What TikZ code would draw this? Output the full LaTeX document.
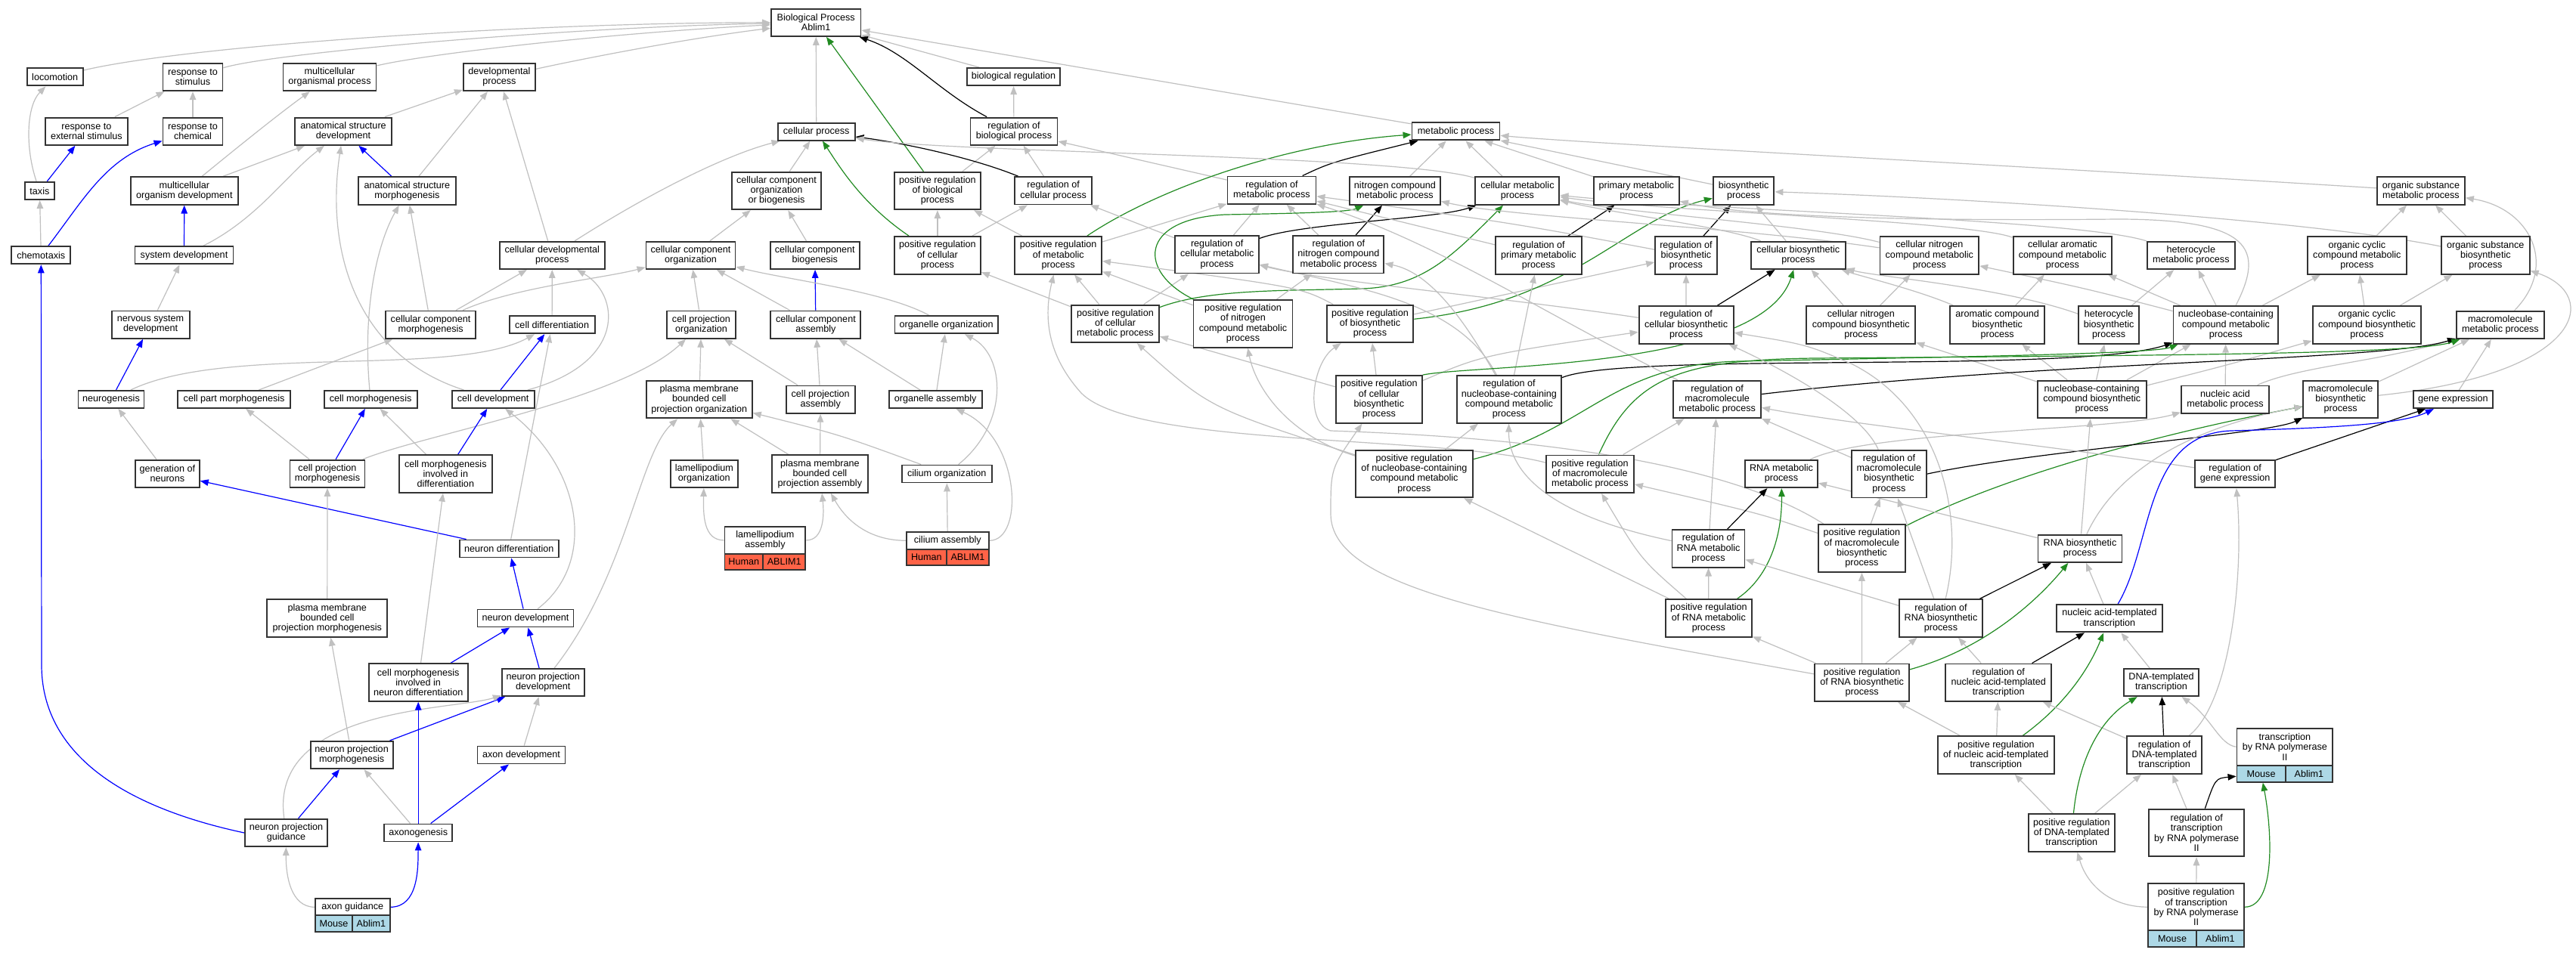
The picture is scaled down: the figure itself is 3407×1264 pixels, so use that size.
\documentclass[tikz,border=0pt]{standalone}
\usepackage{fontspec}
\setmainfont{Liberation Sans}
\usetikzlibrary{arrows.meta}
\definecolor{egrey}{RGB}{192,192,192}
\definecolor{egreen}{RGB}{34,139,34}
\definecolor{tabblue}{RGB}{173,216,230}
\definecolor{tabred}{RGB}{255,99,71}
\pgfdeclarelayer{bg}
\pgfsetlayers{bg,main}
\newcommand\gofont{\fontsize{12.6}{13.2}\selectfont}
\newcommand\gonode[6]{\node[nb,minimum width=#4pt,minimum height=#5pt] (#1) at (#2,#3) {#6};}
\newcommand\gocell[7]{\node[nb,fill=#6,minimum width=#4pt,minimum height=#5pt] (#1) at (#2,#3) {#7};}
\begin{document}
\begin{tikzpicture}[x=1pt,y=-1pt,
  nb/.style={draw=black!80,line width=1.9pt,fill=white,rectangle,inner sep=0pt,align=center,font=\gofont},
  tipA/.style={-{Triangle[length=11pt,width=8.5pt]}},
  eg/.style={draw=egrey,line width=1.2pt,tipA},
  eb/.style={draw=blue,line width=1.2pt,tipA},
  ek/.style={draw=black,line width=1.2pt,tipA},
  eG/.style={draw=egreen,line width=1.2pt,tipA}]
\useasboundingbox (0,0) rectangle (3407,1264);
% ---------------- nodes: left part
\gonode{loco}{72.7}{101.9}{74}{23}{locomotion}
\gonode{respstim}{255}{102}{79}{36.3}{response to\\stimulus}
\gonode{mcorg}{436}{102}{123}{36.3}{multicellular\\organismal process}
\gonode{devproc}{660.4}{102}{95}{36.3}{developmental\\process}
\gonode{respext}{114.4}{173.7}{109}{36.3}{response to\\external stimulus}
\gonode{respchem}{255}{173.7}{79}{36.3}{response to\\chemical}
\gonode{asdev}{454}{173.7}{128}{36.3}{anatomical structure\\development}
\gonode{taxis}{52.4}{252.5}{39}{23}{taxis}
\gonode{mcodev}{243.8}{252.5}{142}{36.3}{multicellular\\organism development}
\gonode{asmorph}{538.4}{252.5}{129}{36.3}{anatomical structure\\morphogenesis}
\gonode{chemotaxis}{54.3}{337.8}{78}{23}{chemotaxis}
\gonode{sysdev}{243.5}{337.8}{130}{23}{system development}
\gonode{celldevproc}{730.3}{337.8}{139}{36.3}{cellular developmental\\process}
\gonode{nsdev}{199.1}{429.6}{103}{36.3}{nervous system\\development}
\gonode{ccmorph}{569.6}{429.6}{119}{36.3}{cellular component\\morphogenesis}
\gonode{celldiff}{730.1}{429.8}{113}{23}{cell differentiation}
\gonode{neurogen}{147}{528.4}{87}{23}{neurogenesis}
\gonode{cpartmorph}{309.6}{528.4}{149}{23}{cell part morphogenesis}
\gonode{cellmorph}{490.1}{528.4}{123}{23}{cell morphogenesis}
\gonode{celldev}{652.2}{528.4}{109}{23}{cell development}
\gonode{genneur}{221.3}{626.8}{85}{36.3}{generation of\\neurons}
\gonode{cprojmorph}{433}{626.8}{99}{36.3}{cell projection\\morphogenesis}
\gonode{cmid}{589.3}{627}{123}{49.5}{cell morphogenesis\\involved in\\differentiation}
\gonode{neurdiff}{673.3}{726}{131}{23}{neuron differentiation}
\gonode{pmbcpm}{432.8}{818}{159}{49.5}{plasma membrane\\bounded cell\\projection morphogenesis}
\gonode{neurdev}{695}{818}{127}{23}{neuron development}
\gonode{cmind}{553.2}{903}{131}{49.5}{cell morphogenesis\\involved in\\neuron differentiation}
\gonode{npdev}{718.3}{903}{109}{36.3}{neuron projection\\development}
\gonode{npmorph}{465.1}{999}{109}{36.3}{neuron projection\\morphogenesis}
\gonode{axondev}{689.5}{999}{116}{23}{axon development}
\gonode{npguid}{378.5}{1102}{109}{36.3}{neuron projection\\guidance}
\gonode{axonogen}{553.2}{1102}{90}{23}{axonogenesis}
\gonode{axonguid}{466.25}{1200.3}{98.7}{22.2}{axon guidance}
\gocell{axonguidM}{441.55}{1222.3}{49.3}{21.8}{tabblue}{Mouse}
\gocell{axonguidA}{490.9}{1222.3}{49.4}{21.8}{tabblue}{Ablim1}
% ---------------- nodes: middle part
\gonode{BP}{1079.2}{29.8}{118.5}{36.3}{Biological Process\\Ablim1}
\gonode{bioreg}{1340.5}{101.6}{123}{23}{biological regulation}
\gonode{regbp}{1341}{173.7}{115}{36.3}{regulation of\\biological process}
\gonode{cellproc}{1079.7}{174.1}{102}{23}{cellular process}
\gonode{ccob}{1027}{252.5}{118.5}{49.5}{cellular component\\organization\\or biogenesis}
\gonode{prbp}{1239.9}{252.5}{114}{49.5}{positive regulation\\of biological\\process}
\gonode{regcp}{1393.1}{252.3}{101.5}{36.3}{regulation of\\cellular process}
\gonode{regmp}{1682}{251.6}{117}{36.3}{regulation of\\metabolic process}
\gonode{cco}{913.5}{337.8}{118}{36.3}{cellular component\\organization}
\gonode{ccb}{1077.8}{337.8}{118}{36.3}{cellular component\\biogenesis}
\gonode{prcp}{1239.9}{337.8}{114}{49.5}{positive regulation\\of cellular\\process}
\gonode{prmp}{1399.7}{337.8}{114.6}{49.5}{positive regulation\\of metabolic\\process}
\gonode{regcmp}{1609.7}{336.7}{110.6}{49.5}{regulation of\\cellular metabolic\\process}
\gonode{regncmp}{1770.4}{336.7}{120}{49.5}{regulation of\\nitrogen compound\\metabolic process}
\gonode{cporg}{927.5}{429.6}{90.5}{36.3}{cell projection\\organization}
\gonode{cca}{1078.9}{429.6}{119}{36.3}{cellular component\\assembly}
\gonode{orgorg}{1251.7}{429.8}{136.5}{23}{organelle organization}
\gonode{pmbcpo}{924.8}{528.6}{140}{49.5}{plasma membrane\\bounded cell\\projection organization}
\gonode{cpa}{1085.2}{528.6}{91}{36.3}{cell projection\\assembly}
\gonode{orgasm}{1237.1}{528.6}{123}{23}{organelle assembly}
\gonode{lamorg}{931.3}{626.8}{89.4}{36.3}{lamellipodium\\organization}
\gonode{pmbcpa}{1084.4}{627}{126.7}{49.5}{plasma membrane\\bounded cell\\projection assembly}
\gonode{cilorg}{1252.2}{627}{119}{23}{cilium organization}
\gonode{lamasm}{1011.95}{714.9}{106.9}{36.2}{lamellipodium\\assembly}
\gocell{lamasmH}{983.7}{743.65}{50.4}{21.3}{tabred}{Human}
\gocell{lamasmA}{1037.15}{743.65}{56.5}{21.3}{tabred}{ABLIM1}
\gonode{cilasm}{1253.3}{715.3}{109.2}{23}{cilium assembly}
\gocell{cilasmH}{1225.3}{737.45}{53.2}{21.3}{tabred}{Human}
\gocell{cilasmA}{1279.9}{737.45}{56}{21.3}{tabred}{ABLIM1}
% ---------------- nodes: metabolic part
\gonode{ncmp}{1844.9}{252.5}{120}{36.3}{nitrogen compound\\metabolic process}
\gonode{mp}{1925.5}{173.9}{116}{23}{metabolic process}
\gonode{cmp}{2006.9}{252.5}{111}{36.3}{cellular metabolic\\process}
\gonode{pmp}{2164.3}{252.5}{113}{36.3}{primary metabolic\\process}
\gonode{bsp}{2306.1}{252.5}{80.6}{36.3}{biosynthetic\\process}
\gonode{regpmp}{2034.9}{338}{114}{49.5}{regulation of\\primary metabolic\\process}
\gonode{regbsp}{2229.9}{338}{81.7}{49.5}{regulation of\\biosynthetic\\process}
\gonode{cbsp}{2378.3}{337.8}{125}{36.3}{cellular biosynthetic\\process}
\gonode{cncmp}{2551.8}{337.8}{130.7}{49.5}{cellular nitrogen\\compound metabolic\\process}
\gonode{cacmp}{2727.9}{337.8}{130.7}{49.5}{cellular aromatic\\compound metabolic\\process}
\gonode{hmp}{2897.8}{338}{116}{36.3}{heterocycle\\metabolic process}
\gonode{occmp}{3117.3}{338}{130.5}{49.5}{organic cyclic\\compound metabolic\\process}
\gonode{osbsp}{3287.3}{338}{116.7}{49.5}{organic substance\\biosynthetic\\process}
\gonode{osmp}{3201.9}{252.5}{116}{36.3}{organic substance\\metabolic process}
\gonode{prcmp}{1475}{428.4}{116}{49.5}{positive regulation\\of cellular\\metabolic process}
\gonode{prncmp}{1644}{428.3}{131}{62.7}{positive regulation\\of nitrogen\\compound metabolic\\process}
\gonode{prbsp}{1812}{428.4}{114.8}{49.5}{positive regulation\\of biosynthetic\\process}
\gonode{regcbsp}{2230.1}{429.9}{125}{49.5}{regulation of\\cellular biosynthetic\\process}
\gonode{cncbsp}{2461.3}{429.9}{144}{49.5}{cellular nitrogen\\compound biosynthetic\\process}
\gonode{acbsp}{2641.6}{429.8}{124.6}{49.5}{aromatic compound\\biosynthetic\\process}
\gonode{hbsp}{2789.1}{429.9}{80}{49.5}{heterocycle\\biosynthetic\\process}
\gonode{nccmp}{2943.9}{429.9}{138.8}{49.5}{nucleobase-containing\\compound metabolic\\process}
\gonode{occbsp}{3130.5}{429.9}{143.8}{49.5}{organic cyclic\\compound biosynthetic\\process}
\gonode{mmp}{3306.9}{429.9}{116}{36.3}{macromolecule\\metabolic process}
\gonode{prcbsp}{1823.8}{528.4}{114}{62.7}{positive regulation\\of cellular\\biosynthetic\\process}
\gonode{regnccmp}{1995.9}{528.4}{138}{62.7}{regulation of\\nucleobase-containing\\compound metabolic\\process}
\gonode{regmmp}{2271.1}{528.4}{115.7}{49.5}{regulation of\\macromolecule\\metabolic process}
\gonode{nccbsp}{2766.7}{528.4}{143.8}{49.5}{nucleobase-containing\\compound biosynthetic\\process}
\gonode{namp}{2943}{528.6}{116}{36.3}{nucleic acid\\metabolic process}
\gonode{mbsp}{3095.6}{528.4}{98.4}{49.5}{macromolecule\\biosynthetic\\process}
\gonode{geneexp}{3244.4}{528.6}{105}{23}{gene expression}
\gonode{prnccmp}{1870.4}{627}{154.7}{62.7}{positive regulation\\of nucleobase-containing\\compound metabolic\\process}
\gonode{prmmp}{2102.9}{627.2}{116.2}{49.5}{positive regulation\\of macromolecule\\metabolic process}
\gonode{rnamp}{2356}{627}{96}{36.3}{RNA metabolic\\process}
\gonode{regmbsp}{2498.4}{627.1}{99}{62.7}{regulation of\\macromolecule\\biosynthetic\\process}
\gonode{reggeneexp}{2956.1}{627}{105.6}{36.3}{regulation of\\gene expression}
\gonode{regrnamp}{2259.5}{725.8}{96}{49.5}{regulation of\\RNA metabolic\\process}
\gonode{prmbsp}{2462.4}{725.5}{114.6}{62.7}{positive regulation\\of macromolecule\\biosynthetic\\process}
\gonode{rnabsp}{2751}{725.8}{111}{36.3}{RNA biosynthetic\\process}
\gonode{prrnamp}{2259.8}{817.9}{114}{49.5}{positive regulation\\of RNA metabolic\\process}
\gonode{regrnabsp}{2567}{818}{110.3}{49.5}{regulation of\\RNA biosynthetic\\process}
\gonode{natt}{2789.9}{818.2}{140}{36.3}{nucleic acid-templated\\transcription}
\gonode{prrnabsp}{2462.6}{903.2}{125}{49.5}{positive regulation\\of RNA biosynthetic\\process}
\gonode{regnatt}{2643.2}{903.2}{140}{49.5}{regulation of\\nucleic acid-templated\\transcription}
\gonode{dtt}{2858.5}{903}{98.4}{36.3}{DNA-templated\\transcription}
\gonode{prnatt}{2639.8}{999.1}{154.2}{49.5}{positive regulation\\of nucleic acid-templated\\transcription}
\gonode{regdtt}{2862.6}{999.1}{99}{49.5}{regulation of\\DNA-templated\\transcription}
\gonode{trnp2}{3021.85}{988.3}{126.7}{49.4}{transcription\\by RNA polymerase\\II}
\gocell{trnp2M}{2990.6}{1023.85}{64.2}{21.7}{tabblue}{Mouse}
\gocell{trnp2A}{3053.95}{1023.85}{62.5}{21.7}{tabblue}{Ablim1}
\gonode{prdtt}{2739.9}{1102}{114.5}{49.5}{positive regulation\\of DNA-templated\\transcription}
\gonode{regtrnp2}{2905.2}{1102}{125.6}{62.7}{regulation of\\transcription\\by RNA polymerase\\II}
\gonode{prtrnp2}{2904.65}{1200.2}{126.7}{62.4}{positive regulation\\of transcription\\by RNA polymerase\\II}
\gocell{prtrnp2M}{2873.1}{1242.2}{63.6}{21.6}{tabblue}{Mouse}
\gocell{prtrnp2A}{2936.45}{1242.2}{63.1}{21.6}{tabblue}{Ablim1}
% ---------------- edges
\begin{pgfonlayer}{bg}
\fill[white] (0,0) rectangle (3407,1264);
% left part
\draw[eg] (loco) .. controls (250,60) and (700,30) .. (BP);
\draw[eg] (respstim) .. controls (360,70) and (750,36) .. (BP);
\draw[eg] (mcorg) .. controls (560,72) and (800,44) .. (BP);
\draw[eg] (devproc) .. controls (760,80) and (900,52) .. (BP);
\draw[eg] (respext) -- (respstim);
\draw[eg] (respchem) -- (respstim);
\draw[eg] (asdev) -- (devproc);
\draw[eg] (taxis) .. controls (33,195) and (35,140) .. (loco);
\draw[eb] (taxis) -- (respext);
\draw[eg] (chemotaxis) -- (taxis);
\draw[eb] (chemotaxis) .. controls (110,265) and (140,210) .. (respchem);
\draw[eg] (mcodev) .. controls (320,190) and (370,150) .. (mcorg);
\draw[eg] (mcodev) -- (asdev);
\draw[eb] (asmorph) -- (asdev);
\draw[eg] (asmorph) -- (devproc);
\draw[eb] (sysdev) -- (mcodev);
\draw[eg] (sysdev) .. controls (340,290) and (380,230) .. (asdev);
\draw[eg] (celldevproc) -- (devproc);
\draw[eg] (celldevproc) .. controls (860,255) and (960,205) .. (cellproc);
\draw[eg] (nsdev) -- (sysdev);
\draw[eg] (ccmorph) -- (asmorph);
\draw[eg] (ccmorph) -- (celldevproc);
\draw[eg] (ccmorph) .. controls (680,380) and (800,368) .. (cco);
\draw[eg] (celldiff) -- (celldevproc);
\draw[eb] (neurogen) -- (nsdev);
\draw[eg] (neurogen) .. controls (300,455) and (600,500) .. (celldiff);
\draw[eg] (cpartmorph) -- (ccmorph);
\draw[eg] (cellmorph) .. controls (480,420) and (495,330) .. (asmorph);
\draw[eb] (celldev) -- (celldiff);
\draw[eg] (celldev) .. controls (470,470) and (430,330) .. (asdev);
\draw[eg] (celldev) .. controls (830,480) and (820,390) .. (celldevproc);
\draw[eg] (genneur) -- (neurogen);
\draw[eb] (cprojmorph) -- (cellmorph);
\draw[eg] (cprojmorph) -- (cpartmorph);
\draw[eg] (cprojmorph) .. controls (560,575) and (820,530) .. (cporg);
\draw[eg] (cmid) -- (cellmorph);
\draw[eb] (cmid) -- (celldev);
\draw[eb] (neurdiff) -- (genneur);
\draw[eg] (neurdiff) -- (celldiff);
\draw[eg] (pmbcpm) -- (cprojmorph);
\draw[eb] (neurdev) -- (neurdiff);
\draw[eg] (neurdev) .. controls (790,745) and (770,620) .. (celldev);
\draw[eb] (cmind) -- (neurdev);
\draw[eg] (cmind) -- (cmid);
\draw[eb] (npdev) -- (neurdev);
\draw[eg] (npdev) .. controls (830,760) and (845,600) .. (pmbcpo);
\draw[eb] (npmorph) -- (npdev);
\draw[eg] (npmorph) -- (pmbcpm);
\draw[eg] (axondev) -- (npdev);
\draw[eb] (npguid.west) .. controls (150,1065) and (55,990) .. (55,880) -- (chemotaxis);
\draw[eb] (npguid) -- (npmorph);
\draw[eg] (npguid) .. controls (355,935) and (600,940) .. (npdev);
\draw[eg] (axonogen) -- (npmorph);
\draw[eb] (axonogen) -- (cmind);
\draw[eb] (axonogen) -- (axondev);
\draw[eg] (axonguid.west) .. controls (385,1200) and (378,1160) .. (npguid);
\draw[eb] (axonguid.east) .. controls (553,1200) and (553,1150) .. (axonogen);
% middle part
\draw[eg] (bioreg) -- (BP);
\draw[eg] (regbp) -- (bioreg);
\draw[ek] (regbp) .. controls (1240,120) and (1200,70) .. (BP);
\draw[eg] (cellproc) -- (BP);
\draw[eG] (prbp) -- (BP);
\draw[eg] (prbp) -- (regbp);
\draw[eg] (ccob) -- (cellproc);
\draw[ek] (regcp) .. controls (1290,210) and (1200,190) .. (cellproc);
\draw[eg] (regcp) -- (regbp);
\draw[eg] (regmp) -- (regbp);
\draw[ek] (regmp) .. controls (1760,215) .. (mp);
\draw[eg] (cco) -- (ccob);
\draw[eg] (ccb) -- (ccob);
\draw[eG] (prcp) .. controls (1140,270) and (1110,220) .. (cellproc);
\draw[eg] (prcp) -- (prbp);
\draw[eg] (prcp) -- (regcp);
\draw[eg] (prmp) -- (prbp);
\draw[eg] (prmp) -- (regmp);
\draw[eG] (prmp) .. controls (1530,250) and (1700,190) .. (mp);
\draw[eg] (regcmp) -- (regcp);
\draw[eg] (regcmp) -- (regmp);
\draw[ek] (regcmp) .. controls (1720,295) and (1900,290) .. (cmp);
\draw[eg] (regncmp) -- (regmp);
\draw[ek] (regncmp) -- (ncmp);
\draw[eg] (cporg) -- (cco);
\draw[eb] (cca) -- (ccb);
\draw[eg] (cca) -- (cco);
\draw[eg] (orgorg) .. controls (1170,385) and (1040,370) .. (cco);
\draw[eg] (prcmp) -- (prcp);
\draw[eg] (prcmp) -- (prmp);
\draw[eg] (prcmp) -- (regcmp);
\draw[eG] (prcmp) .. controls (1600,382) and (1700,385) .. (1800,382) .. controls (1880,380) and (1920,340) .. (cmp);
\draw[eg] (prncmp) -- (prmp);
\draw[eg] (prncmp) -- (regncmp);
\draw[eG] (prncmp) .. controls (1505,360) and (1505,290) .. (1620,284) .. controls (1740,282) and (1785,280) .. (ncmp);
\draw[eg] (prbsp) .. controls (1720,380) .. (prmp);
\draw[eg] (prbsp) -- (regbsp);
\draw[eG] (prbsp) .. controls (2080,400) and (2150,290) .. (bsp);
\draw[eg] (pmbcpo) -- (cporg);
\draw[eg] (cpa) -- (cporg);
\draw[eg] (cpa) -- (cca);
\draw[eg] (orgasm) -- (orgorg);
\draw[eg] (orgasm) -- (cca);
\draw[eg] (lamorg) -- (pmbcpo);
\draw[eg] (pmbcpa) -- (pmbcpo);
\draw[eg] (pmbcpa) -- (cpa);
\draw[eg] (cilorg) .. controls (1110,575) .. (pmbcpo);
\draw[eg] (cilorg) .. controls (1335,560) and (1330,470) .. (orgorg);
\draw[eg] (lamasm.west) .. controls (930,715) and (930,680) .. (lamorg);
\draw[eg] (lamasm.east) .. controls (1090,715) and (1090,680) .. (pmbcpa);
\draw[eg] (cilasm.west) .. controls (1150,715) and (1120,690) .. (pmbcpa);
\draw[eg] (cilasm) -- (cilorg);
\draw[eg] (cilasm.east) .. controls (1355,715) and (1350,580) .. (orgasm);
% metabolic part
\draw[eg] (mp) -- (BP);
\draw[eg] (ncmp) -- (mp);
\draw[eg] (cmp) -- (mp);
\draw[eg] (cmp) .. controls (1850,205) and (1250,202) .. (cellproc);
\draw[eg] (pmp) -- (mp);
\draw[eg] (bsp) -- (mp);
\draw[eg] (osmp) .. controls (2600,215) and (2100,190) .. (mp);
\draw[ek] (regpmp) -- (pmp);
\draw[eg] (regpmp) -- (regmp);
\draw[ek] (regbsp) -- (bsp);
\draw[eg] (regbsp) .. controls (2000,295) .. (regmp);
\draw[eg] (cbsp) -- (bsp);
\draw[eg] (cbsp) .. controls (2280,300) and (2150,285) .. (cmp);
\draw[eg] (cncmp) .. controls (2300,300) and (2000,288) .. (ncmp);
\draw[eg] (cncmp) .. controls (2400,298) and (2150,282) .. (cmp);
\draw[eg] (cacmp) .. controls (2600,292) and (2200,280) .. (cmp);
\draw[eg] (hmp) .. controls (2750,290) and (2250,278) .. (cmp);
\draw[eg] (occmp) -- (osmp);
\draw[eg] (osbsp) -- (osmp);
\draw[eg] (osbsp) .. controls (3050,290) and (2600,262) .. (bsp);
\draw[eg] (mmp) .. controls (3385,350) and (3345,275) .. (osmp);
\draw[eg] (nccmp) .. controls (2995,330) and (2980,290) .. (2800,290) .. controls (2500,293) and (2300,285) .. (pmp);
\draw[eg] (regcbsp) -- (regbsp);
\draw[ek] (regcbsp) -- (cbsp);
\draw[eg] (regcbsp) .. controls (2000,395) and (1750,372) .. (regcmp);
\draw[eg] (cncbsp) -- (cbsp);
\draw[eg] (cncbsp) -- (cncmp);
\draw[eg] (acbsp) -- (cacmp);
\draw[eg] (acbsp) .. controls (2540,385) and (2460,365) .. (cbsp);
\draw[eg] (hbsp) -- (hmp);
\draw[eg] (hbsp) .. controls (2650,380) and (2480,366) .. (cbsp);
\draw[eg] (nccmp) -- (cacmp);
\draw[eg] (nccmp) -- (hmp);
\draw[eg] (nccmp) -- (occmp);
\draw[eg] (nccmp) .. controls (2760,382) .. (cncmp);
\draw[eg] (occbsp) -- (occmp);
\draw[eg] (occbsp) -- (osbsp);
\draw[eg] (nccbsp) -- (acbsp);
\draw[eg] (nccbsp) -- (hbsp);
\draw[eg] (nccbsp) -- (nccmp);
\draw[eg] (nccbsp) .. controls (2950,482) .. (occbsp);
\draw[eg] (nccbsp) -- (cncbsp);
\draw[eg] (namp) -- (nccmp);
\draw[eg] (namp) .. controls (3040,485) and (3150,478) .. (mmp);
\draw[eg] (mbsp) -- (mmp);
\draw[eg] (mbsp) .. controls (3420,495) and (3440,390) .. (osbsp);
\draw[eg] (geneexp) -- (mmp);
\draw[eg] (regnccmp) -- (regpmp);
\draw[eg] (regnccmp) .. controls (1935,420) and (1890,360) .. (regncmp);
\draw[eg] (regnccmp) .. controls (1930,400) and (1800,382) .. (regcmp);
\draw[ek] (regnccmp) .. controls (2150,465) and (2750,495) .. (nccmp);
\draw[eg] (regmmp) .. controls (2050,420) and (1900,320) .. (regmp);
\draw[ek] (regmmp) .. controls (2700,478) and (3150,478) .. (mmp);
\draw[eg] (prcbsp) -- (prbsp);
\draw[eg] (prcbsp) -- (prcmp);
\draw[eg] (prcbsp) .. controls (1960,470) .. (regcbsp);
\draw[eG] (prcbsp.north east) .. controls (1950,482) and (2330,490) .. (cbsp);
\draw[eg] (prnccmp) -- (regnccmp);
\draw[eg] (prnccmp) .. controls (1600,540) .. (prcmp);
\draw[eg] (prnccmp) .. controls (1700,575) and (1660,510) .. (prncmp);
\draw[eG] (prnccmp) .. controls (2100,570) and (2130,482) .. (2300,478) .. controls (2600,472) and (2850,468) .. (nccmp);
\draw[eg] (prmmp) -- (regmmp);
\draw[eG] (prmmp) .. controls (2160,500) and (2220,476) .. (2400,474) .. controls (2900,470) and (3200,468) .. (mmp);
\draw[eg] (prmmp) .. controls (1900,575) and (1500,592) .. (1430,520) .. controls (1385,470) and (1380,420) .. (prmp);
\draw[eg] (prmbsp) -- (regmbsp);
\draw[eG] (prmbsp) .. controls (2650,630) and (2850,575) .. (mbsp);
\draw[eg] (prmbsp) .. controls (2330,680) .. (prmmp);
\draw[eg] (prmbsp) .. controls (2250,590) and (1900,575) .. (1760,570) .. controls (1725,560) and (1735,480) .. (prbsp);
\draw[eg] (prrnamp) -- (regrnamp);
\draw[eG] (prrnamp) .. controls (2345,760) and (2357,700) .. (rnamp);
\draw[eg] (prrnamp) -- (prnccmp);
\draw[eg] (prrnamp) .. controls (2170,740) .. (prmmp);
\draw[ek] (regrnamp) -- (rnamp);
\draw[eg] (regrnamp) -- (regmmp);
\draw[eg] (regrnamp) .. controls (2040,680) and (1995,620) .. (regnccmp);
\draw[eg] (regmbsp) -- (regmmp);
\draw[eg] (regmbsp) .. controls (2460,540) and (2340,480) .. (regcbsp);
\draw[ek] (regmbsp.east) .. controls (2700,595) and (3000,575) .. (mbsp);
\draw[ek] (reggeneexp) -- (geneexp);
\draw[eg] (reggeneexp) .. controls (2700,588) and (2450,562) .. (regmmp);
\draw[eg] (rnamp) .. controls (2470,570) and (2800,570) .. (namp);
\draw[eg] (rnabsp) -- (rnamp);
\draw[eg] (rnabsp) -- (nccbsp);
\draw[eg] (rnabsp) .. controls (2800,620) and (2900,565) .. (mbsp);
\draw[ek] (regrnabsp) -- (rnabsp);
\draw[eg] (regrnabsp) -- (regrnamp);
\draw[eg] (regrnabsp) -- (regmbsp);
\draw[eg] (regrnabsp) .. controls (2600,680) and (2565,540) .. (2450,482) .. controls (2390,456) .. (regcbsp);
\draw[eg] (natt) -- (rnabsp);
\draw[eb] (natt) .. controls (2848,720) and (2835,575) .. (2950,570) .. controls (3100,566) and (3180,560) .. (geneexp);
\draw[ek] (regnatt) -- (natt);
\draw[eg] (regnatt) -- (regrnabsp);
\draw[eg] (dtt) -- (natt);
\draw[eg] (prrnabsp) -- (prrnamp);
\draw[eg] (prrnabsp) -- (regrnabsp);
\draw[eg] (prrnabsp) -- (prmbsp);
\draw[eG] (prrnabsp) .. controls (2620,860) and (2690,800) .. (rnabsp);
\draw[eg] (prrnabsp) .. controls (2000,820) and (1760,780) .. (1760,680) .. controls (1760,620) .. (prcbsp);
\draw[eg] (prnatt) -- (regnatt);
\draw[eg] (prnatt) -- (prrnabsp);
\draw[eG] (prnatt) .. controls (2735,930) and (2765,880) .. (natt);
\draw[ek] (regdtt) -- (dtt);
\draw[eg] (regdtt) -- (regnatt);
\draw[eg] (regdtt) .. controls (2950,930) and (2968,760) .. (reggeneexp);
\draw[eg] (trnp2.west) .. controls (2935,985) and (2925,950) .. (dtt);
\draw[eg] (prdtt) -- (prnatt);
\draw[eg] (prdtt) -- (regdtt);
\draw[eG] (prdtt) .. controls (2750,1000) and (2780,950) .. (dtt);
\draw[eg] (regtrnp2) -- (regdtt);
\draw[ek] (regtrnp2) .. controls (2930,1030) .. (trnp2M);
\draw[eg] (prtrnp2) -- (regtrnp2);
\draw[eg] (prtrnp2.west) .. controls (2790,1200) and (2760,1170) .. (prdtt);
\draw[eG] (prtrnp2.east) .. controls (3010,1200) and (3005,1100) .. (trnp2M);
\end{pgfonlayer}
\end{tikzpicture}
\end{document}
